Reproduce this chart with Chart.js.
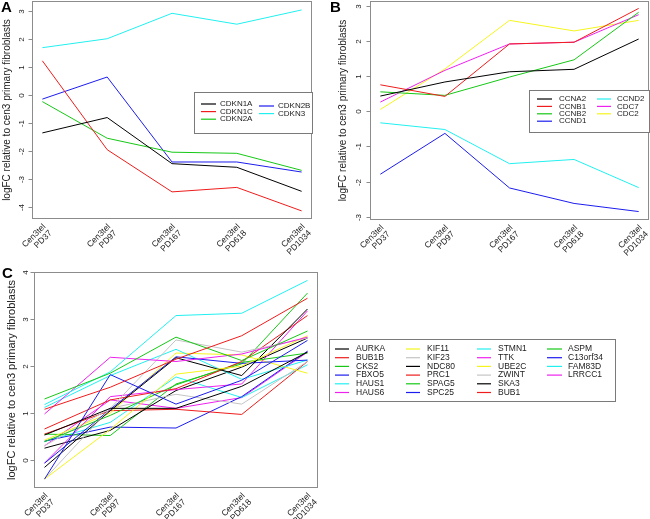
<!DOCTYPE html>
<html>
<head>
<meta charset="utf-8">
<script src="https://cdn.jsdelivr.net/npm/chart.js@4.4.1/dist/chart.umd.min.js"></script>
<style>
  html, body { margin: 0; padding: 0; background: #fff; }
  #wrap { position: relative; width: 650px; height: 519px; }
  canvas { position: absolute; left: 0; top: 0; }
</style>
</head>
<body>
<div id="wrap">
  <canvas id="chartA" width="650" height="519"></canvas>
  <canvas id="chartB" width="650" height="519"></canvas>
  <canvas id="chartC" width="650" height="519"></canvas>
</div>
<script>
// x categories (passage points)
const timepoints = ['PD37', 'PD97', 'PD167', 'PD618', 'PD1034']
const linePrefix = 'Cen3tel'
const yTitle = 'logFC relative to cen3 primary fibroblasts'

// y tick labels
const ticksA = [-4, -3, -2, -1, 0, 1, 2, 3]
const ticksB = [-3, -2, -1, 0, 1, 2, 3]
const ticksC = [0, 1, 2, 3, 4]

// panel A - CDK inhibitors
const genesA = ['CDKN1A', 'CDKN1C', 'CDKN2A', 'CDKN2B', 'CDKN3']
const CDKN1A = [-1.35, -0.80, -2.45, -2.58, -3.44]
const CDKN1C = [1.23, -1.95, -3.46, -3.30, -4.14]
const CDKN2A = [-0.23, -1.54, -2.04, -2.08, -2.69]
const CDKN2B = [-0.14, 0.65, -2.39, -2.39, -2.75]
const CDKN3 = [1.70, 2.02, 2.93, 2.54, 3.05]

// panel B - cyclins
const genesB = ['CCNA2', 'CCNB1', 'CCNB2', 'CCND1', 'CCND2', 'CDC7', 'CDC2']
const CCNA2 = [0.43, 0.83, 1.12, 1.19, 2.05]
const CCNB1 = [0.75, 0.42, 1.91, 1.96, 2.92]
const CCNB2 = [0.55, 0.45, 0.97, 1.46, 2.81]
const CCND1 = [-1.79, -0.63, -2.18, -2.62, -2.85]
const CCND2 = [-0.33, -0.52, -1.49, -1.37, -2.17]
const CDC7 = [0.26, 1.16, 1.91, 1.96, 2.74]
const CDC2 = [0.05, 1.20, 2.58, 2.28, 2.58]

// panel C - mitotic genes
const genesC = ['AURKA', 'BUB1B', 'CKS2', 'FBXO5', 'HAUS1', 'HAUS6', 'KIF11', 'KIF23',
  'NDC80', 'PRC1', 'SPAG5', 'SPC25', 'STMN1', 'TTK', 'UBE2C', 'ZWINT', 'SKA3', 'BUB1',
  'ASPM', 'C13orf34', 'FAM83D', 'LRRCC1']
const AURKA = [0.53, 1.10, 1.10, 1.57, 2.30]
const BUB1B = [1.08, 1.55, 2.15, 2.65, 3.45]
const CKS2 = [1.30, 1.85, 2.62, 2.12, 2.75]
const FBXO5 = [-0.41, 1.82, 1.19, 1.70, 2.55]
const HAUS1 = [1.18, 1.88, 3.08, 3.13, 3.83]
const HAUS6 = [0.98, 2.19, 2.10, 2.26, 2.62]
const KIF11 = [-0.41, 0.65, 1.83, 2.00, 2.65]
const KIF23 = [-0.41, 1.10, 2.56, 2.30, 2.60]
const NDC80 = [-0.16, 1.05, 2.18, 1.80, 3.22]
const PRC1 = [0.66, 1.28, 1.52, 2.10, 3.08]
const SPAG5 = [0.39, 0.95, 1.60, 2.08, 2.28]
const SPC25 = [-0.07, 1.08, 2.20, 2.06, 2.13]
const STMN1 = [1.12, 1.80, 2.36, 1.72, 2.13]
const TTK = [-0.07, 1.35, 1.50, 1.62, 3.18]
const UBE2C = [0.42, 1.00, 2.28, 2.24, 1.85]
const ZWINT = [0.30, 1.10, 1.40, 1.19, 2.10]
const SKA3 = [0.25, 0.63, 1.48, 1.98, 2.60]
const BUB1 = [0.55, 1.05, 1.08, 0.97, 2.10]
const ASPM = [0.55, 0.52, 1.62, 2.05, 3.56]
const C13orf34 = [0.40, 0.70, 0.68, 1.35, 2.32]
const FAM83D = [0.39, 0.80, 1.77, 1.33, 2.03]
const LRRCC1 = [0.30, 1.28, 1.10, 1.33, 2.30]

const seriesA = [CDKN1A, CDKN1C, CDKN2A, CDKN2B, CDKN3]
const seriesB = [CCNA2, CCNB1, CCNB2, CCND1, CCND2, CDC7, CDC2]
const seriesC = [AURKA, BUB1B, CKS2, FBXO5, HAUS1, HAUS6, KIF11, KIF23, NDC80, PRC1, SPAG5,
  SPC25, STMN1, TTK, UBE2C, ZWINT, SKA3, BUB1, ASPM, C13orf34, FAM83D, LRRCC1]

// R's default palette, recycled
const rPalette = ['#000000', '#ee1c1c', '#16c816', '#1c1cee', '#22f0f0', '#ee22ee', '#f5f51e', '#c4c4c4']

const FONT = '"Liberation Sans", Arial, sans-serif'

// draws the R-style box, axes, labels and legend
const rAxes = {
  id: 'rAxes',
  afterDraw(chart, args, o) {
    const ctx = chart.ctx
    const a = chart.chartArea
    const xs = chart.scales.x, ys = chart.scales.y
    ctx.save()
    ctx.strokeStyle = '#8c8c8c'
    ctx.lineWidth = 1
    const L = Math.round(a.left) + 0.5, T = Math.round(a.top) + 0.5
    const R = Math.round(a.right) - 0.5, B = Math.round(a.bottom) - 0.5
    ctx.strokeRect(L, T, R - L, B - T)

    // y ticks, labels turned like R's las=0
    ctx.fillStyle = '#222'
    ctx.font = o.tickFont + ' ' + FONT
    o.yTicks.forEach(v => {
      const py = Math.round(ys.getPixelForValue(v)) + 0.5
      ctx.beginPath()
      ctx.moveTo(L, py)
      ctx.lineTo(L - 4, py)
      ctx.stroke()
      ctx.save()
      ctx.translate(L - o.yLabelGap, py)
      ctx.rotate(-Math.PI / 2)
      ctx.textAlign = 'center'
      ctx.textBaseline = 'middle'
      ctx.fillText(String(v), 0, 0)
      ctx.restore()
    })

    // x labels at 45 degrees, two lines
    ctx.font = o.xFont + ' ' + FONT
    timepoints.forEach((t, i) => {
      const px = xs.getPixelForValue(i + 1)
      ctx.save()
      ctx.translate(px + o.xDx, B + o.xDy)
      ctx.rotate(-Math.PI / 4)
      ctx.textAlign = 'right'
      ctx.textBaseline = 'middle'
      ctx.fillText(linePrefix, 0, 0)
      ctx.fillText(t, 0, o.xLineH)
      ctx.restore()
    })

    // axis title
    ctx.font = o.titleFont + ' ' + FONT
    ctx.save()
    ctx.translate(o.titleX, (a.top + a.bottom) / 2)
    ctx.rotate(-Math.PI / 2)
    ctx.textAlign = 'center'
    ctx.textBaseline = 'middle'
    ctx.fillText(yTitle, 0, 0)
    ctx.restore()

    // panel letter
    ctx.fillStyle = '#000'
    ctx.font = 'bold 15px ' + FONT
    ctx.textAlign = 'left'
    ctx.textBaseline = 'alphabetic'
    ctx.fillText(o.letter, o.letterX, o.letterY)

    // legend
    const lg = o.legend
    ctx.fillStyle = '#fff'
    ctx.fillRect(lg.x, lg.y, lg.w, lg.h)
    ctx.strokeStyle = '#7a7a7a'
    ctx.strokeRect(lg.x + 0.5, lg.y + 0.5, lg.w, lg.h)
    ctx.font = lg.font + ' ' + FONT
    ctx.textBaseline = 'middle'
    chart.data.datasets.forEach((d, i) => {
      const c = Math.floor(i / lg.rows), r = i % lg.rows
      const col = lg.cols[c]
      const y = col.y0 + r * lg.rowH
      ctx.strokeStyle = d.borderColor
      ctx.lineWidth = 1.2
      ctx.beginPath()
      ctx.moveTo(col.line[0], y)
      ctx.lineTo(col.line[1], y)
      ctx.stroke()
      ctx.fillStyle = '#222'
      ctx.fillText(d.label, col.text, y)
    })
    ctx.restore()
  }
}

function makePanel(id, genes, series, yMin, yMax, box, opts) {
  const datasets = genes.map((g, i) => ({
    label: g,
    data: series[i].map((v, k) => ({ x: k + 1, y: v })),
    borderColor: rPalette[i % rPalette.length],
    borderWidth: 1,
    pointRadius: 0,
    tension: 0,
    fill: false
  }))
  return new Chart(document.getElementById(id), {
    type: 'line',
    data: { datasets },
    options: {
      responsive: false,
      animation: false,
      events: [],
      layout: { padding: { left: box.l, top: box.t, right: 650 - box.r, bottom: 519 - box.b } },
      scales: {
        x: { type: 'linear', min: 0.84, max: 5.16, display: false },
        y: { type: 'linear', min: yMin, max: yMax, display: false }
      },
      plugins: { legend: { display: false }, tooltip: { enabled: false }, rAxes: opts }
    },
    plugins: [rAxes]
  })
}

makePanel('chartA', genesA, seriesA, -4.43, 3.37, { l: 32, t: 1, r: 312, b: 219 }, {
  yTicks: ticksA, tickFont: '8px', yLabelGap: 11, xFont: '8.5px', xDx: 2, xDy: 7, xLineH: 9,
  titleFont: '10px', titleX: 7, letter: 'A', letterX: 1, letterY: 12,
  legend: {
    x: 194, y: 92, w: 118, h: 41, rows: 3, rowH: 7.6, font: '8px',
    cols: [{ line: [201, 216], text: 220, y0: 104 }, { line: [259, 274], text: 278, y0: 106 }]
  }
})

makePanel('chartB', genesB, seriesB, -3.09, 3.13, { l: 370, t: 1, r: 649, b: 220 }, {
  yTicks: ticksB, tickFont: '8px', yLabelGap: 12, xFont: '8.5px', xDx: 2, xDy: 7, xLineH: 9,
  titleFont: '10px', titleX: 343, letter: 'B', letterX: 330, letterY: 12,
  legend: {
    x: 529, y: 90, w: 120, h: 42, rows: 4, rowH: 7.4, font: '8px',
    cols: [{ line: [537, 552], text: 559, y0: 99 }, { line: [597, 611], text: 617, y0: 99 }]
  }
})

makePanel('chartC', genesC, seriesC, -0.6, 4.01, { l: 34, t: 272, r: 318, b: 488 }, {
  yTicks: ticksC, tickFont: '8px', yLabelGap: 9, xFont: '8.5px', xDx: 2, xDy: 7, xLineH: 9,
  titleFont: '11px', titleX: 12, letter: 'C', letterX: 2, letterY: 278,
  legend: {
    x: 329, y: 339, w: 286, h: 62, rows: 6, rowH: 8.7, font: '8.5px',
    cols: [{ line: [335, 349], text: 356, y0: 349 }, { line: [406, 420], text: 427, y0: 349 },
      { line: [477, 491], text: 498, y0: 349 }, { line: [547, 562], text: 568, y0: 349 }]
  }
})
</script>
</body>
</html>
